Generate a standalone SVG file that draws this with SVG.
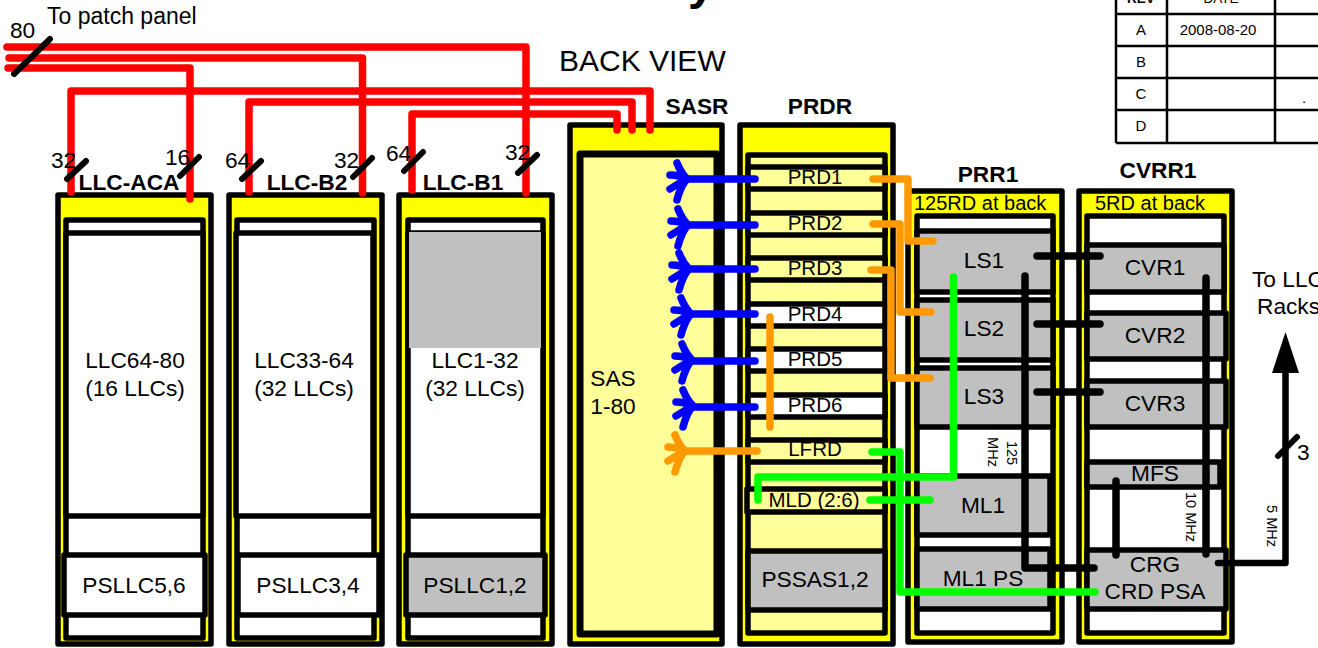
<svg xmlns="http://www.w3.org/2000/svg" width="1318" height="648" viewBox="0 0 1318 648">
<style>
text{font-family:"Liberation Sans",Arial,sans-serif;font-size:22.7px;fill:#000}
.m{text-anchor:middle}
.b{font-weight:bold}
.p{font-size:20.5px}
.s{font-size:20px}
.t{font-size:14.5px}
.c{font-size:15px}
.h{font-size:13.5px}
.big{font-size:30px}
.ttl{font-size:48px;font-weight:bold}
rect{stroke:#000;stroke-width:5.500;stroke-linejoin:round}
.y{fill:#ff0}.l{fill:#ff9}.w{fill:#fff}.g{fill:#c0c0c0}
.n{stroke:none}
.cn{fill:none;stroke-linecap:round;stroke-linejoin:round;stroke-width:7.500}
.red{stroke:#f00}.blu{stroke:#00f}.org{stroke:#f90}.grn{stroke:#0f0}.blk{stroke:#000}
.sl{stroke:#000;stroke-width:6;stroke-linecap:round;fill:none}
</style>
<defs>
<path id="fork" d="M-10,-16Q-6,-6 0,0Q-6,6 -10,21M-17,-4Q-8,-4 0,0Q-8,4 -17,10"/>
</defs>

<g id="title"><text class="ttl" x="688" y="-1">y</text></g>

<g id="rev-table">
<path d="M1116,0V143M1167,0V143M1275,0V143M1116,14H1318M1116,46H1318M1116,78H1318M1116,110H1318M1116,143H1318" fill="none" stroke="#000" stroke-width="2.500"/>
<text class="m b h" x="1141" y="3">REV</text>
<text class="m h" x="1221" y="3">DATE</text>
<text class="m c" x="1141" y="35">A</text>
<text class="m c" x="1218" y="35">2008-08-20</text>
<text class="m c" x="1141" y="67">B</text>
<text class="m c" x="1141" y="99">C</text>
<text class="m c" x="1304" y="103">.</text>
<text class="m c" x="1141" y="131">D</text>
</g>

<g id="captions">
<text x="47" y="24" style="font-size:23px">To patch panel</text>
<text class="big" x="559" y="71">BACK VIEW</text>
</g>

<g id="llc-aca">
<rect class="y" x="58" y="195" width="153" height="449"/>
<rect class="w" x="66" y="220" width="137" height="418"/>
<rect class="w" x="66" y="233" width="137" height="283"/>
<rect class="w" x="64" y="555" width="141" height="60"/>
<text class="m b" x="129" y="190">LLC-ACA</text>
<text class="m" x="135" y="368">LLC64-80</text>
<text class="m" x="135" y="396">(16 LLCs)</text>
<text class="m" x="134" y="593">PSLLC5,6</text>
</g>
<g id="llc-b2">
<rect class="y" x="229" y="195" width="153" height="449"/>
<rect class="w" x="237" y="220" width="137" height="418"/>
<rect class="w" x="236" y="233" width="137" height="283"/>
<rect class="w" x="238" y="555" width="141" height="60"/>
<text class="m b" x="307" y="190">LLC-B2</text>
<text class="m" x="304" y="368">LLC33-64</text>
<text class="m" x="304" y="396">(32 LLCs)</text>
<text class="m" x="308" y="593">PSLLC3,4</text>
</g>
<g id="llc-b1">
<rect class="y" x="399" y="195" width="153" height="449"/>
<rect class="w" x="408" y="220" width="135" height="418"/>
<rect class="w" x="408" y="233" width="135" height="283"/>
<rect class="g n" x="409" y="232" width="132" height="116"/>
<rect class="g" x="406" y="555" width="139" height="60"/>
<text class="m b" x="463" y="190">LLC-B1</text>
<text class="m" x="475" y="368">LLC1-32</text>
<text class="m" x="475" y="396">(32 LLCs)</text>
<text class="m" x="475" y="593">PSLLC1,2</text>
</g>
<g id="sasr">
<rect class="y" x="570" y="125" width="152" height="519"/>
<rect class="l" x="580" y="154" width="137" height="480" style="stroke-width:7"/>
<text class="m b" x="697" y="114">SASR</text>
<text class="m" x="613" y="386">SAS</text>
<text class="m" x="613" y="414">1-80</text>
</g>
<g id="prdr">
<rect class="y" x="740" y="125" width="153" height="519"/>
<rect class="l" x="748" y="155" width="137" height="478"/>
<text class="m b" x="820" y="114">PRDR</text>
</g>
<g id="prd1"><rect class="l" x="748" y="167" width="137" height="22"/><text class="m p" x="815" y="184">PRD1</text></g>
<g id="prd2"><rect class="l" x="748" y="213" width="137" height="22"/><text class="m p" x="815" y="230">PRD2</text></g>
<g id="prd3"><rect class="l" x="748" y="258" width="137" height="22"/><text class="m p" x="815" y="275">PRD3</text></g>
<g id="prd4"><rect class="w" x="748" y="304" width="137" height="22"/><text class="m p" x="815" y="321">PRD4</text></g>
<g id="prd5"><rect class="w" x="748" y="349" width="137" height="22"/><text class="m p" x="815" y="366">PRD5</text></g>
<g id="prd6"><rect class="w" x="748" y="395" width="137" height="22"/><text class="m p" x="815" y="412">PRD6</text></g>
<g id="lfrd"><rect class="l" x="748" y="440" width="137" height="22"/><text class="m p" x="815" y="456">LFRD</text></g>
<g id="mld"><rect class="l" x="747" y="489" width="138" height="23"/><text class="m p" x="814" y="507">MLD (2:6)</text></g>
<g id="pssas"><rect class="g" x="748" y="551" width="137" height="59"/><text class="m" x="815" y="587">PSSAS1,2</text></g>

<g id="prr1">
<rect class="y" x="908" y="191" width="154" height="451"/>
<rect class="w" x="917" y="216" width="136" height="417"/>
<text class="m b" x="988" y="182">PRR1</text>
<text class="s" x="914" y="210">125RD at back</text>
<text class="t" transform="translate(1007,453) rotate(90)" text-anchor="middle">125</text>
<text class="t" transform="translate(988,452) rotate(90)" text-anchor="middle">MHz</text>
</g>
<g id="ls1"><rect class="g" x="917" y="231" width="136" height="61"/><text class="m" x="984" y="268">LS1</text></g>
<g id="ls2"><rect class="g" x="917" y="300" width="136" height="60"/><text class="m" x="984" y="336">LS2</text></g>
<g id="ls3"><rect class="g" x="917" y="368" width="136" height="59"/><text class="m" x="984" y="404">LS3</text></g>
<g id="ml1"><rect class="g" x="917" y="476" width="133" height="59"/><text class="m" x="983" y="513">ML1</text></g>
<g id="ml1ps"><rect class="g" x="917" y="549" width="133" height="60"/><text class="m" x="983" y="586">ML1 PS</text></g>

<g id="cvrr1">
<rect class="y" x="1079" y="191" width="153" height="451"/>
<rect class="w" x="1087" y="216" width="137" height="417"/>
<text class="m b" x="1158" y="178">CVRR1</text>
<text class="s" x="1095" y="210">5RD at back</text>
<text class="t" transform="translate(1186,517) rotate(90)" text-anchor="middle">10 MHz</text>
</g>
<g id="cvr1"><rect class="g" x="1087" y="245" width="137" height="47"/><text class="m" x="1155" y="275">CVR1</text></g>
<g id="cvr2"><rect class="g" x="1087" y="313" width="139" height="46"/><text class="m" x="1155" y="343">CVR2</text></g>
<g id="cvr3"><rect class="g" x="1087" y="381" width="139" height="46"/><text class="m" x="1155" y="411">CVR3</text></g>
<g id="mfs"><rect class="g" x="1087" y="462" width="133" height="25"/><text class="m" x="1155" y="481">MFS</text></g>
<g id="crg"><rect class="g" x="1087" y="550" width="139" height="59"/><text class="m" x="1155" y="572">CRG</text><text class="m" x="1155" y="599">CRD PSA</text></g>

<g id="connectors">
<path class="cn red" d="M7,47H526V193M9,58H362.500V193M8,68H190V199"/>
<path class="cn red" d="M71,192V91H650V130M249,192V102H632V130M412,190V114H617V130"/>
<path class="sl" d="M14,74L50,39M67,179L86,161M180,176L199,157M242,179L261,161M353,177L372,158M404,171L423,152M518,173L537,155"/>
<path class="cn blu" d="M755,179H687M755,225H688M755,269H689M755,314H691M755,361H692M755,407H693"/>
<use href="#fork" class="cn blu" x="687" y="179"/>
<use href="#fork" class="cn blu" x="688" y="225"/>
<use href="#fork" class="cn blu" x="689" y="269"/>
<use href="#fork" class="cn blu" x="691" y="314"/>
<use href="#fork" class="cn blu" x="692" y="360"/>
<use href="#fork" class="cn blu" x="693" y="406"/>
<path class="cn org" d="M757,451H685"/>
<use href="#fork" class="cn org" x="685" y="451" />
<path class="cn org" d="M873,179H908V241H933M873,224H900V312H931M871,270H891V378H930M770,317V427"/>
<path class="cn grn" d="M953.500,277V477H758V500M872,452H900V592H1095M870,500H930"/>
<path class="cn blk" d="M1037,256H1100M1037,324H1100M1037,392H1100M1025,276V568H1094M1206,278V554M1116,481V555"/>
<path class="cn blk" d="M1218,563H1285.500V370" style="stroke-width:6.500"/>
<polygon id="arrowhead" points="1285.500,332 1299,373 1272,373" fill="#000"/>
<path class="sl" d="M1278,456L1297,437"/>
</g>

<g id="connector-labels">
<text x="10" y="38">80</text>
<text x="51" y="168">32</text>
<text x="165" y="165">16</text>
<text x="225" y="168">64</text>
<text x="334" y="168">32</text>
<text x="386" y="161">64</text>
<text x="505" y="160">32</text>
<text x="1297" y="460">3</text>
<text class="t" transform="translate(1267,526) rotate(90)" text-anchor="middle">5 MHz</text>
<text x="1252" y="287">To LLC</text>
<text x="1257" y="314">Racks</text>
</g>
</svg>
